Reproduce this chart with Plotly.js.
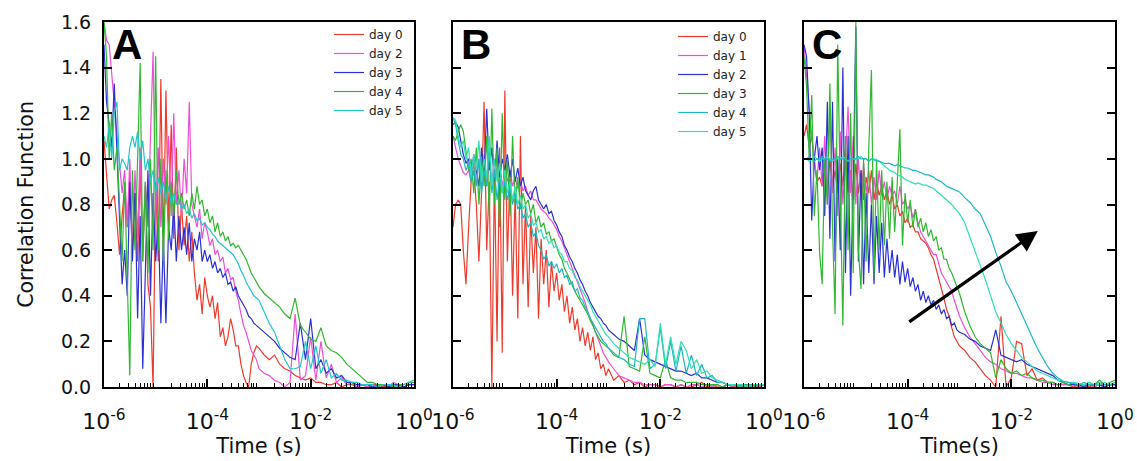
<!DOCTYPE html>
<html><head><meta charset="utf-8">
<script src="https://cdn.plot.ly/plotly-3.0.1.min.js"></script>
<style>html,body{margin:0;padding:0;background:#fff}#chart{width:1137px;height:461px}</style>
</head><body><div id="chart"></div>
<script>
// lag times (s)
const T = [
1.00e-6,1.12e-6,1.26e-6,1.41e-6,1.58e-6,1.78e-6,2.00e-6,2.24e-6,2.51e-6,2.82e-6,3.16e-6,3.55e-6,3.98e-6,4.47e-6,5.01e-6,5.62e-6,6.31e-6,7.08e-6,7.94e-6,8.91e-6,
1.00e-5,1.12e-5,1.26e-5,1.41e-5,1.58e-5,1.78e-5,2.00e-5,2.24e-5,2.51e-5,2.82e-5,3.16e-5,3.55e-5,3.98e-5,4.47e-5,5.01e-5,5.62e-5,6.31e-5,7.08e-5,7.94e-5,8.91e-5,
1.00e-4,1.12e-4,1.26e-4,1.41e-4,1.58e-4,1.78e-4,2.00e-4,2.24e-4,2.51e-4,2.82e-4,3.16e-4,3.55e-4,3.98e-4,4.47e-4,5.01e-4,5.62e-4,6.31e-4,7.08e-4,7.94e-4,8.91e-4,
1.00e-3,1.26e-3,1.58e-3,2.00e-3,2.51e-3,3.16e-3,3.98e-3,5.01e-3,6.31e-3,7.94e-3,
1.00e-2,1.26e-2,1.58e-2,2.00e-2,2.51e-2,3.16e-2,3.98e-2,5.01e-2,6.31e-2,7.94e-2,
1.00e-1,1.26e-1,1.58e-1,2.00e-1,2.51e-1,3.16e-1,3.98e-1,5.01e-1,6.31e-1,7.94e-1,
1.00];

// ---------- Panel A ----------
const A_NAMES = ['day 0','day 2','day 3','day 4','day 5'];
const A_DAY0 = [
1.08,0.95,0.78,0.82,0.84,0.72,0.58,0.75,0.88,0.70,0.92,0.62,0.85,0.55,0.95,0.60,0.88,0.45,0.35,0.00,
0.90,0.55,1.35,0.60,1.30,0.70,1.15,0.65,1.05,0.60,0.80,0.62,0.75,0.55,0.68,0.50,0.38,0.45,0.32,0.48,
0.40,0.35,0.40,0.30,0.37,0.22,0.26,0.18,0.22,0.30,0.25,0.18,0.18,0.10,0.05,0.02,0.00,0.10,0.15,0.18,
0.17,0.14,0.12,0.14,0.10,0.08,0.07,0.05,0.04,0.03,
0.04,0.02,0.02,0.01,0.01,0.02,0.00,0.01,0.01,0.00,
0.01,0.00,0.01,0.01,0.00,0.01,0.00,0.01,0.00,0.01,
0.01];
const A_DAY2 = [
1.60,1.52,1.50,1.38,1.25,1.10,1.00,0.85,0.95,0.70,1.00,0.60,0.95,0.65,1.05,0.55,0.90,0.70,1.10,1.47,
0.75,1.05,0.70,1.00,0.80,1.10,0.75,1.20,0.80,0.95,0.75,1.00,0.85,1.25,0.80,0.75,0.70,0.78,0.65,0.72,
0.68,0.62,0.65,0.58,0.60,0.55,0.57,0.50,0.52,0.47,0.48,0.42,0.38,0.32,0.27,0.24,0.20,0.16,0.14,0.12,
0.08,0.06,0.05,0.03,0.02,0.00,0.02,0.32,0.03,0.05,
0.22,0.03,0.20,0.04,0.10,0.02,0.04,0.01,0.02,0.00,
0.01,0.00,0.01,0.00,0.01,0.00,0.02,0.01,0.00,0.01,
0.01];
const A_DAY3 = [
1.50,1.25,1.15,1.05,1.33,1.00,0.75,0.45,0.60,0.40,0.90,0.55,0.85,0.30,0.75,0.08,0.50,0.95,0.40,0.85,
0.55,0.75,0.28,0.65,0.28,0.70,0.60,0.80,0.55,0.75,0.60,0.70,0.58,0.72,0.55,0.65,0.60,0.68,0.55,0.60,
0.55,0.58,0.52,0.55,0.50,0.52,0.48,0.50,0.45,0.46,0.42,0.44,0.40,0.38,0.36,0.34,0.31,0.30,0.28,0.27,
0.26,0.24,0.22,0.20,0.17,0.15,0.13,0.12,0.28,0.12,
0.30,0.08,0.12,0.06,0.08,0.04,0.05,0.02,0.02,0.01,
0.01,0.01,0.00,0.01,0.01,0.00,0.01,0.01,0.00,0.01,
0.01];
const A_DAY4 = [
1.60,1.45,1.00,1.20,0.95,1.05,0.80,0.55,0.90,0.40,0.05,0.95,0.60,1.00,1.42,0.55,0.90,0.50,1.00,0.60,
1.45,0.60,1.00,0.55,0.95,0.65,0.90,0.75,0.95,0.80,0.85,0.78,0.82,0.75,0.85,0.78,0.88,0.80,0.82,0.75,
0.78,0.72,0.75,0.68,0.72,0.66,0.68,0.64,0.66,0.62,0.63,0.61,0.62,0.60,0.58,0.56,0.53,0.50,0.48,0.46,
0.44,0.41,0.39,0.37,0.35,0.32,0.30,0.39,0.27,0.24,
0.21,0.20,0.26,0.18,0.16,0.15,0.13,0.10,0.08,0.06,
0.04,0.02,0.02,0.01,0.01,0.01,0.00,0.01,0.01,0.02,
0.02];
const A_DAY5 = [
1.10,1.05,1.15,1.00,1.20,1.25,0.95,1.00,0.98,0.95,1.05,1.10,1.05,1.12,1.00,1.08,0.95,1.00,0.90,0.95,
0.85,0.92,0.85,0.90,0.82,0.88,0.80,0.85,0.80,0.82,0.78,0.80,0.76,0.78,0.74,0.76,0.73,0.74,0.71,0.72,
0.70,0.69,0.67,0.66,0.64,0.63,0.62,0.61,0.60,0.59,0.58,0.56,0.54,0.51,0.49,0.46,0.44,0.42,0.40,0.39,
0.38,0.33,0.28,0.24,0.18,0.12,0.08,0.08,0.09,0.20,
0.08,0.18,0.06,0.12,0.04,0.06,0.03,0.03,0.02,0.02,
0.01,0.01,0.01,0.00,0.01,0.01,0.01,0.00,0.01,0.02,
0.03];

// ---------- Panel B ----------
const B_NAMES = ['day 0','day 1','day 2','day 3','day 4','day 5'];
const B_DAY0 = [
0.70,0.80,0.82,0.80,0.60,0.45,0.70,0.90,0.95,0.80,0.55,0.85,1.25,0.60,0.90,0.00,0.95,0.20,1.05,0.15,
1.30,0.55,0.95,0.40,0.85,0.30,1.10,0.45,0.80,0.35,0.75,0.50,0.70,0.30,0.65,0.45,0.60,0.35,0.55,0.42,
0.50,0.38,0.45,0.33,0.40,0.28,0.35,0.25,0.30,0.20,0.26,0.18,0.24,0.16,0.22,0.12,0.15,0.08,0.10,0.05,
0.08,0.03,0.05,0.02,0.03,0.01,0.02,0.00,0.01,0.01,
0.00,0.01,0.01,0.00,0.01,0.00,0.00,0.01,0.02,0.00,
0.01,0.00,0.00,0.01,0.00,0.01,0.00,0.00,0.01,0.00,
0.01];
const B_DAY1 = [
1.10,1.05,1.00,0.97,0.94,0.93,0.95,0.90,0.98,0.88,1.00,0.90,1.02,0.88,0.98,0.90,1.00,0.92,0.97,0.88,
0.95,0.90,0.95,0.88,0.92,0.87,0.90,0.86,0.88,0.84,0.86,0.82,0.82,0.80,0.78,0.77,0.76,0.74,0.73,0.71,
0.69,0.66,0.64,0.61,0.58,0.55,0.52,0.49,0.46,0.43,0.40,0.37,0.33,0.30,0.27,0.24,0.21,0.18,0.15,0.13,
0.11,0.08,0.05,0.04,0.03,0.02,0.02,0.01,0.01,0.01,
0.00,0.01,0.01,0.00,0.01,0.00,0.01,0.01,0.00,0.01,
0.00,0.01,0.00,0.01,0.00,0.00,0.01,0.00,0.01,0.00,
0.01];
const B_DAY2 = [
1.15,1.16,1.14,1.08,1.02,0.98,1.00,0.92,1.02,0.95,0.88,1.05,0.92,1.22,0.95,1.05,0.90,1.08,0.92,1.00,
0.95,1.02,0.92,1.00,0.90,0.96,0.88,0.92,0.86,0.84,0.82,0.86,0.88,0.82,0.80,0.78,0.80,0.76,0.77,0.73,
0.71,0.68,0.66,0.62,0.60,0.57,0.55,0.52,0.50,0.47,0.45,0.42,0.40,0.37,0.35,0.33,0.31,0.30,0.28,0.27,
0.25,0.23,0.21,0.20,0.18,0.16,0.30,0.14,0.12,0.11,
0.10,0.09,0.08,0.07,0.07,0.06,0.05,0.06,0.04,0.04,
0.03,0.02,0.02,0.01,0.01,0.01,0.01,0.00,0.01,0.01,
0.01];
const B_DAY3 = [
1.10,1.08,1.12,1.15,1.12,1.02,0.95,1.00,0.85,1.05,0.80,1.00,0.88,1.10,0.75,1.22,0.80,1.05,0.70,1.20,
0.82,1.00,0.75,1.10,0.80,0.92,0.78,0.85,0.80,0.82,0.76,0.80,0.72,0.75,0.70,0.72,0.67,0.68,0.64,0.65,
0.61,0.58,0.56,0.52,0.50,0.47,0.44,0.42,0.40,0.38,0.36,0.34,0.32,0.29,0.27,0.24,0.22,0.20,0.19,0.18,
0.17,0.14,0.13,0.31,0.09,0.08,0.07,0.22,0.06,0.05,
0.04,0.12,0.04,0.03,0.03,0.02,0.02,0.02,0.01,0.01,
0.01,0.01,0.00,0.01,0.01,0.00,0.01,0.01,0.00,0.01,
0.01];
const B_DAY4 = [
1.18,1.15,1.08,1.02,1.00,0.95,0.98,0.90,0.95,0.88,1.00,0.85,0.95,0.88,1.05,0.85,0.95,0.82,0.92,0.85,
0.90,0.82,0.88,0.80,0.85,0.78,0.80,0.74,0.76,0.70,0.72,0.66,0.68,0.62,0.60,0.56,0.58,0.53,0.55,0.52,
0.54,0.50,0.52,0.48,0.49,0.45,0.46,0.42,0.43,0.39,0.38,0.35,0.33,0.30,0.28,0.26,0.24,0.22,0.20,0.19,
0.17,0.15,0.13,0.12,0.10,0.09,0.30,0.30,0.08,0.10,
0.26,0.08,0.20,0.07,0.18,0.06,0.14,0.05,0.10,0.04,
0.05,0.02,0.02,0.01,0.01,0.01,0.00,0.01,0.01,0.01,
0.01];
const B_DAY5 = [
1.18,1.17,1.10,1.05,1.08,1.00,1.05,0.92,1.02,0.95,1.08,0.90,1.00,0.92,1.10,0.88,1.00,0.90,0.98,0.85,
0.95,0.85,0.90,0.82,0.88,0.80,0.84,0.78,0.80,0.74,0.76,0.71,0.72,0.68,0.69,0.65,0.66,0.63,0.64,0.61,
0.62,0.59,0.58,0.55,0.55,0.52,0.51,0.48,0.47,0.44,0.42,0.40,0.38,0.36,0.33,0.31,0.29,0.27,0.25,0.23,
0.22,0.19,0.17,0.15,0.13,0.12,0.11,0.10,0.12,0.09,
0.28,0.10,0.22,0.10,0.20,0.16,0.08,0.12,0.06,0.07,
0.04,0.03,0.02,0.01,0.01,0.01,0.01,0.00,0.01,0.01,
0.01];

// ---------- Panel C ----------
const C_NAMES = ['day 0','day 1','day 2','day 3','day 4','day 5'];
const C_DAY0 = [
1.10,1.15,1.05,1.10,0.98,0.90,0.92,0.88,0.95,0.85,1.00,0.88,0.95,0.85,0.98,0.88,1.05,0.85,0.95,0.82,
0.98,0.85,0.95,0.82,0.92,0.85,0.95,0.82,0.90,0.84,0.88,0.82,0.86,0.80,0.84,0.78,0.80,0.75,0.77,0.72,
0.74,0.70,0.71,0.68,0.68,0.65,0.64,0.63,0.61,0.58,0.56,0.52,0.48,0.43,0.39,0.34,0.31,0.26,0.22,0.20,
0.18,0.16,0.13,0.11,0.08,0.05,0.03,0.00,0.31,0.00,
0.04,0.20,0.19,0.05,0.08,0.03,0.04,0.02,0.02,0.01,
0.01,0.01,0.00,0.01,0.01,0.00,0.01,0.01,0.00,0.01,
0.01];
const C_DAY1 = [
1.50,1.35,1.22,1.10,1.00,0.90,1.05,0.88,1.10,0.80,1.22,0.85,1.05,0.75,1.12,0.80,1.00,1.23,0.85,1.10,
0.80,1.00,0.82,0.98,0.85,0.95,0.80,0.92,0.82,0.95,0.84,0.90,0.82,0.88,0.84,0.86,0.80,0.88,0.80,0.82,
0.78,0.80,0.74,0.78,0.72,0.68,0.66,0.64,0.62,0.60,0.58,0.58,0.54,0.50,0.48,0.46,0.44,0.42,0.38,0.34,
0.31,0.26,0.22,0.19,0.16,0.13,0.11,0.10,0.08,0.07,
0.06,0.06,0.05,0.04,0.04,0.03,0.02,0.02,0.01,0.01,
0.01,0.01,0.01,0.00,0.01,0.01,0.00,0.01,0.01,0.01,
0.01];
const C_DAY2 = [
1.50,1.45,1.20,0.73,1.00,1.10,0.95,1.05,0.75,1.25,0.65,1.25,0.55,1.00,0.60,1.40,0.50,1.10,0.40,0.90,
1.58,0.55,0.95,0.45,0.85,0.50,0.80,0.45,0.75,0.50,0.72,0.48,0.65,0.50,0.60,0.48,0.58,0.45,0.55,0.46,
0.52,0.44,0.48,0.42,0.45,0.38,0.42,0.37,0.40,0.36,0.38,0.34,0.36,0.32,0.34,0.30,0.31,0.27,0.28,0.25,
0.24,0.23,0.21,0.20,0.18,0.17,0.16,0.25,0.14,0.13,
0.12,0.11,0.12,0.10,0.09,0.08,0.07,0.06,0.05,0.03,
0.02,0.01,0.01,0.01,0.00,0.01,0.01,0.01,0.00,0.01,
0.01];
const C_DAY3 = [
1.45,1.32,1.00,1.28,0.75,0.95,0.59,0.45,1.00,0.80,1.33,0.70,0.32,1.50,0.85,0.27,1.10,0.60,1.20,0.50,
1.60,0.60,0.43,1.00,0.55,1.05,1.39,0.48,1.00,0.60,0.95,0.62,0.90,0.65,0.92,0.68,0.90,1.13,0.62,0.85,
0.72,0.82,0.70,0.78,0.70,0.74,0.68,0.72,0.66,0.69,0.64,0.66,0.60,0.61,0.56,0.56,0.52,0.50,0.47,0.44,
0.41,0.33,0.27,0.22,0.19,0.17,0.15,0.04,0.12,0.08,
0.06,0.07,0.05,0.06,0.04,0.03,0.03,0.02,0.02,0.01,
0.02,0.01,0.02,0.01,0.01,0.02,0.01,0.03,0.01,0.02,
0.03];
const C_DAY4 = [
1.00,1.00,0.99,1.00,1.01,1.00,0.99,1.00,1.00,1.01,1.00,0.99,1.00,1.00,1.00,1.01,1.00,0.99,1.00,1.00,
1.00,1.00,1.01,1.00,1.00,0.99,1.00,1.00,0.995,0.99,0.98,0.97,0.96,0.95,0.945,0.94,0.93,0.925,0.92,0.91,
0.905,0.90,0.895,0.89,0.895,0.89,0.885,0.885,0.88,0.875,0.87,0.86,0.85,0.84,0.83,0.82,0.81,0.80,0.785,0.77,
0.76,0.72,0.66,0.60,0.54,0.47,0.40,0.33,0.28,0.23,
0.19,0.16,0.13,0.11,0.09,0.07,0.06,0.05,0.04,0.03,
0.025,0.02,0.02,0.015,0.01,0.02,0.01,0.01,0.02,0.01,
0.02];
const C_DAY5 = [
1.00,1.00,1.01,1.00,0.99,1.00,1.00,1.01,1.00,1.00,0.99,1.00,1.00,1.01,1.00,1.00,1.00,0.99,1.00,1.00,
1.00,1.01,1.00,1.00,1.00,0.99,1.00,0.995,0.99,0.99,0.985,0.98,0.98,0.98,0.975,0.97,0.975,0.97,0.965,0.96,
0.96,0.955,0.95,0.95,0.945,0.94,0.935,0.93,0.93,0.925,0.92,0.91,0.905,0.90,0.89,0.88,0.875,0.87,0.865,0.86,
0.855,0.83,0.81,0.78,0.76,0.71,0.66,0.59,0.53,0.46,
0.42,0.37,0.32,0.27,0.22,0.17,0.13,0.09,0.06,0.04,
0.025,0.02,0.015,0.01,0.02,0.01,0.01,0.02,0.01,0.01,
0.02];

// tick labels
const X_LABEL_VALUES = [1e-6,1e-4,1e-2,1];
const X_LABEL_TEXT = ['10<sup>-6</sup>','10<sup>-4</sup>','10<sup>-2</sup>','10<sup>0</sup>'];
const X_UNLABELED_DECADES = [1e-5,1e-3,1e-1];
const MINOR_TICKS = [];
for (let d = -6; d < 0; d++) for (let k = 2; k <= 9; k++) MINOR_TICKS.push(k * Math.pow(10, d));

const RED='#ee3a2c', MAG='#ee4fd6', BLUE='#2b2fd6', GREEN='#2fb82f', CYAN='#22c6cc', TEAL='#1fb6c4', TURQ='#2fe0b6';
const FONT = 'DejaVu Sans, Verdana, sans-serif';

function tr(y, name, color, ax, legend, show) {
  return {x: T, y: y, name: name, type: 'scatter', mode: 'lines',
    line: {color: color, width: 1.2}, xaxis: 'x' + ax, yaxis: 'y' + ax,
    legend: legend, showlegend: show, hoverinfo: 'x+y+name'};
}
const data = [
  tr(A_DAY0, A_NAMES[0], RED, '', 'legend', true),
  tr(A_DAY2, A_NAMES[1], MAG, '', 'legend', true),
  tr(A_DAY3, A_NAMES[2], BLUE, '', 'legend', true),
  tr(A_DAY4, A_NAMES[3], GREEN, '', 'legend', true),
  tr(A_DAY5, A_NAMES[4], CYAN, '', 'legend', true),
  tr(B_DAY0, B_NAMES[0], RED, '2', 'legend2', true),
  tr(B_DAY1, B_NAMES[1], MAG, '2', 'legend2', true),
  tr(B_DAY2, B_NAMES[2], BLUE, '2', 'legend2', true),
  tr(B_DAY3, B_NAMES[3], GREEN, '2', 'legend2', true),
  tr(B_DAY4, B_NAMES[4], TEAL, '2', 'legend2', true),
  tr(B_DAY5, B_NAMES[5], TURQ, '2', 'legend2', true),
  tr(C_DAY0, C_NAMES[0], RED, '3', 'legend', false),
  tr(C_DAY1, C_NAMES[1], MAG, '3', 'legend', false),
  tr(C_DAY2, C_NAMES[2], BLUE, '3', 'legend', false),
  tr(C_DAY3, C_NAMES[3], GREEN, '3', 'legend', false),
  tr(C_DAY4, C_NAMES[4], TURQ, '3', 'legend', false),
  tr(C_DAY5, C_NAMES[5], TEAL, '3', 'legend', false)
];

const W = 1137, H = 461;
const YDOM = [1 - 387 / H, 1 - 22 / H];
function xa(x0, x1, anchor, title) {
  return {type: 'log', domain: [x0 / W, x1 / W], range: [-6, 0], anchor: anchor,
    showline: true, mirror: true, linecolor: '#000', linewidth: 2,
    ticks: 'inside', ticklen: 8, tickwidth: 1.5, tickcolor: '#000',
    tickmode: 'array', tickvals: X_LABEL_VALUES, ticktext: X_LABEL_TEXT,
    tickfont: {family: FONT, size: 22, color: '#111'}, ticklabelstandoff: 14,
    minor: {ticks: 'inside', ticklen: 4, tickwidth: 1, tickcolor: '#000', tickmode: 'array', tickvals: MINOR_TICKS, showgrid: false},
    showgrid: false, zeroline: false, fixedrange: true,
    title: {text: title, font: {family: FONT, size: 21, color: '#111'}, standoff: 0}};
}
// overlay axis drawing the long ticks of the unlabelled decades
function xo(base, anchor) {
  return {type: 'log', overlaying: base, anchor: anchor, range: [-6, 0], side: 'bottom',
    showline: false, ticks: 'inside', ticklen: 8, tickwidth: 1.5, tickcolor: '#000',
    tickmode: 'array', tickvals: X_UNLABELED_DECADES, showticklabels: false,
    showgrid: false, zeroline: false, fixedrange: true};
}
function ya(anchor, labels, mirror) {
  return {domain: YDOM, range: [0, 1.6], anchor: anchor,
    showline: true, mirror: mirror, linecolor: '#000', linewidth: 2,
    ticks: 'inside', ticklen: 8, tickwidth: 1.5, tickcolor: '#000',
    tick0: 0, dtick: 0.2, tickformat: '.1f', showticklabels: labels,
    tickfont: {family: FONT, size: 19, color: '#111'}, ticklabelstandoff: 7,
    showgrid: false, zeroline: false, fixedrange: true};
}
const yA = ya('x', true, true);
yA.title = {text: 'Correlation Function', font: {family: FONT, size: 20.5, color: '#111'}, standoff: 22};

function letter(t, ax) {
  return {text: '<b>' + t + '</b>', xref: 'x' + ax + ' domain', yref: 'y' + ax + ' domain',
    x: 0.02, y: 1.0, yshift: 3, xanchor: 'left', yanchor: 'top', showarrow: false,
    font: {family: 'Liberation Sans, Arial, sans-serif', size: 42, color: '#000'}};
}

const layout = {
  width: W, height: H, margin: {l: 0, r: 0, t: 0, b: 0},
  paper_bgcolor: '#fff', plot_bgcolor: '#fff', showlegend: true,
  font: {family: FONT, color: '#111'},
  xaxis: xa(104, 414, 'y', 'Time (s)'),
  yaxis: yA,
  xaxis2: xa(453, 764, 'y2', 'Time (s)'),
  yaxis2: ya('x2', false, true),
  xaxis3: xa(804, 1115, 'y3', 'Time(s)'),
  yaxis3: ya('x3', false, 'ticks'),
  xaxis4: xo('x', 'y'),
  xaxis5: xo('x2', 'y2'),
  xaxis6: xo('x3', 'y3'),
  legend: {x: 329 / W, y: 1 - 20 / H, xanchor: 'left', yanchor: 'top', bgcolor: 'rgba(0,0,0,0)',
    font: {family: FONT, size: 12, color: '#222'}, itemclick: false, itemdoubleclick: false},
  legend2: {x: 673 / W, y: 1 - 22 / H, xanchor: 'left', yanchor: 'top', bgcolor: 'rgba(0,0,0,0)',
    font: {family: FONT, size: 12, color: '#222'}, itemclick: false, itemdoubleclick: false},
  annotations: [
    letter('A', ''), letter('B', '2'), letter('C', '3'),
    {xref: 'x3', yref: 'y3', x: -1.49, y: 0.684, ax: -130, ay: 92, text: '',
     showarrow: true, arrowhead: 2, arrowsize: 1.3, arrowwidth: 3.2, arrowcolor: '#000', standoff: 0, startstandoff: 0}
  ]
};
Plotly.newPlot('chart', data, layout, {displayModeBar: false});
</script></body></html>
